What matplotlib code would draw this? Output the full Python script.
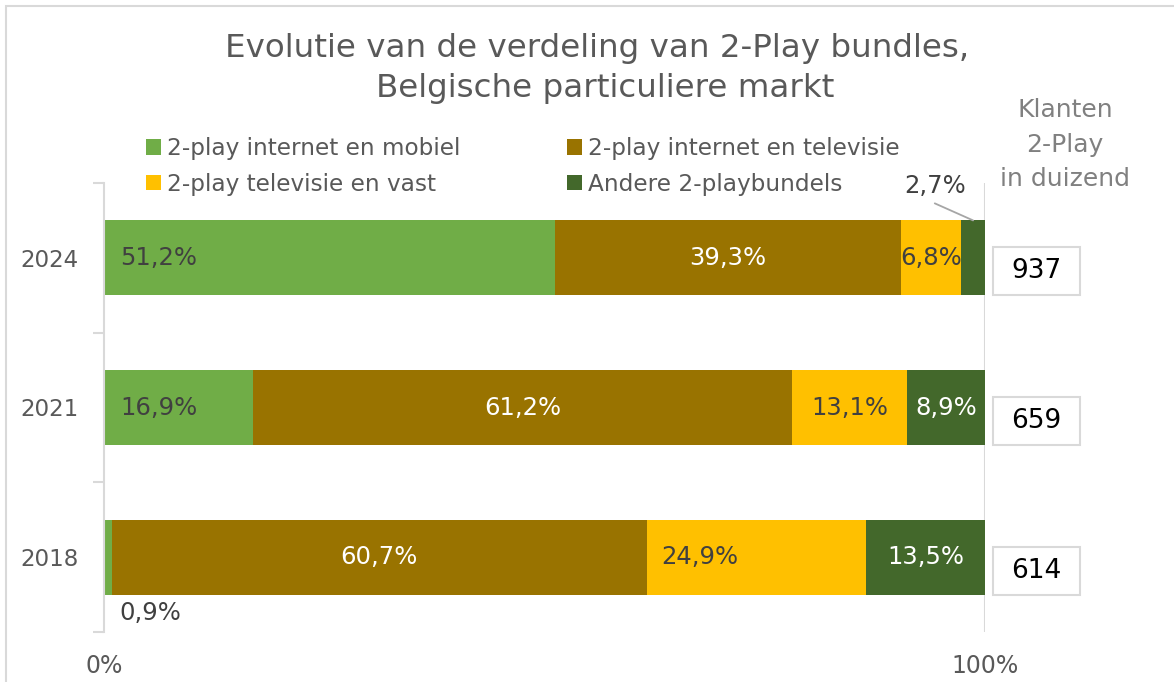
import matplotlib.pyplot as plt
from matplotlib.patches import Rectangle

plt.rcParams['font.family'] = ['DejaVu Sans']

years = ['2018', '2021', '2024']
internet_mobiel = [0.9, 16.9, 51.2]
internet_tv = [60.7, 61.2, 39.3]
tv_vast = [24.9, 13.1, 6.8]
andere = [13.5, 8.9, 2.7]
klanten = [614, 659, 937]

series_names = ['2-play internet en mobiel', '2-play internet en televisie',
                '2-play televisie en vast', 'Andere 2-playbundels']
series = [internet_mobiel, internet_tv, tv_vast, andere]
colors = ['#70AD47', '#997300', '#FFC000', '#43682B']
label_colors = ['#404040', 'white', '#404040', 'white']

grey = '#595959'
light = '#D9D9D9'
H = 682

fig = plt.figure(figsize=(11.74, 6.82), dpi=100)
ax = fig.add_axes([104 / 1174, 50 / H, 881 / 1174, 449 / H])

def fmt(v):
    return f"{v:.1f}".replace('.', ',') + '%'

ypos = list(range(len(years)))
left = [0.0] * len(years)
handles = []
for k, vals in enumerate(series):
    h = ax.barh(ypos, vals, left=left, height=0.5, color=colors[k], label=series_names[k])
    handles.append(h)
    for i, v in enumerate(vals):
        cx = left[i] + v / 2
        y = ypos[i]
        ha = 'center'
        c = label_colors[k]
        if k == 0:
            cx, ha = 1.8, 'left'
            if v < 2:
                # too small: label below the bar
                y = y - 0.37
                c = '#404040'
        if k == 2 and v > 20:
            cx -= 6.4
        if k == 3 and v < 5:
            # small segment: label above with leader line
            ax.text(94.3, y + 0.48, fmt(v), ha='center', va='center', fontsize=17.5,
                    color='#404040', clip_on=False)
            ax.annotate('', xy=(left[i] + v / 2, y + 0.25), xytext=(94.3, y + 0.364),
                        arrowprops=dict(arrowstyle='-', color='#A6A6A6', lw=1.3,
                                        shrinkA=0, shrinkB=0),
                        annotation_clip=False)
        else:
            ax.text(cx, y, fmt(v), ha=ha, va='center', fontsize=17.5, color=c)
    left = [l + v for l, v in zip(left, vals)]

ax.set_xlim(0, 100)
ax.set_ylim(-0.5, 2.5)
ax.axvline(100, color=light, lw=1.5, zorder=0)

for s in ['top', 'right', 'bottom']:
    ax.spines[s].set_visible(False)
ax.spines['left'].set_color(light)
ax.spines['left'].set_linewidth(1.5)

ax.set_xticks([0, 100])
ax.set_xticklabels(['0%', '100%'])
ax.tick_params(axis='x', length=0, pad=16, labelsize=17, labelcolor=grey)
ax.set_yticks(ypos)
ax.set_yticklabels(years)
ax.tick_params(axis='y', which='major', length=0, pad=18, labelsize=16.6, labelcolor=grey)
ax.set_yticks([-0.5, 0.5, 1.5, 2.5], minor=True)
ax.tick_params(axis='y', which='minor', length=8, width=1.5, color=light)

# customer boxes on the right
for i, n in enumerate(klanten):
    yc = ypos[i] - 0.09
    ax.add_patch(Rectangle((100.9, yc - 0.16), 9.9, 0.32, facecolor='white',
                           edgecolor=light, lw=1.5, clip_on=False))
    ax.text(105.85, yc, str(n), ha='center', va='center', fontsize=19, color='black')

for txt, base in zip(['Klanten', '2-Play', 'in duizend'], [117, 152, 186]):
    fig.text(1065 / 1174, 1 - base / H, txt, ha='center', va='baseline',
             fontsize=18, color='#808080')

fig.text(597 / 1174, 1 - 57 / H, 'Evolutie van de verdeling van 2-Play bundles,',
         ha='center', va='baseline', fontsize=23.4, color=grey)
fig.text(605 / 1174, 1 - 97 / H, 'Belgische particuliere markt',
         ha='center', va='baseline', fontsize=23.4, color=grey)

order = [0, 2, 1, 3]
fig.legend(handles=[handles[j] for j in order], labels=[series_names[j] for j in order],
           ncol=2, loc='upper left', bbox_to_anchor=(146 / 1174, 1 - 137 / H),
           frameon=False, fontsize=16.7, labelcolor=grey, borderpad=0, borderaxespad=0,
           handlelength=0.65, handleheight=0.65, handletextpad=0.26,
           columnspacing=4.6, labelspacing=0.55)

fig.add_artist(Rectangle((6 / 1174, -0.01), 1.2, 1 - 6 / H + 0.01,
                         transform=fig.transFigure, fill=False, edgecolor=light, lw=1.5))

fig.savefig('out.png', dpi=100)
